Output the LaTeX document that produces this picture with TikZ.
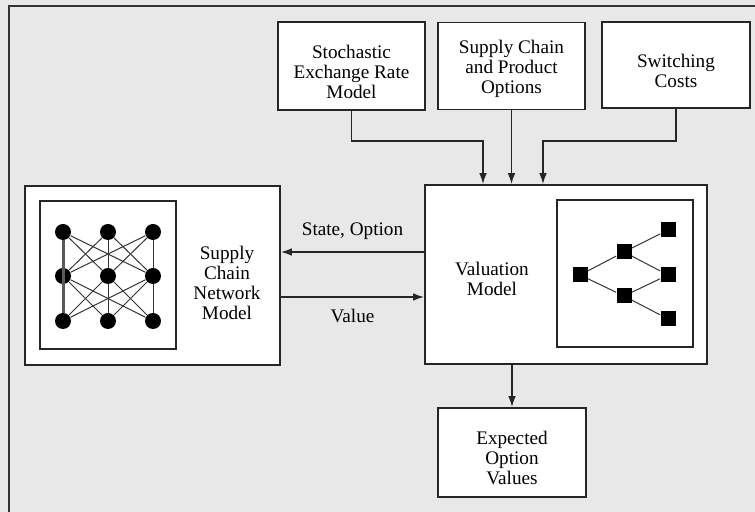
\documentclass[tikz,border=0pt]{standalone}
\usepackage{fontspec}
\setmainfont{Liberation Serif}
\usetikzlibrary{arrows.meta}

\begin{document}
\begin{tikzpicture}[
    x=0.5pt, y=-0.5pt,
    % text font of all labels
    every node/.style={font=\fontsize{9.6}{10}\selectfont, align=center},
    % plain boxes
    box/.style={draw=black!85, line width=0.85pt, fill=white, inner sep=0pt},
    % connectors with filled heads
    flow/.style={draw=black!85, line width=0.75pt, -{Latex[length=5.5pt, width=3.8pt]}},
    % network dots
    dot/.style={circle, fill=black, minimum size=8pt, inner sep=0pt},
    % tree squares
    sq/.style={rectangle, fill=black, minimum size=7.5pt, inner sep=0pt},
    % thin links inside the small pictures
    link/.style={draw=black!80, line width=0.5pt}
]

    % 1. paper and outer frame
    \useasboundingbox (0,0) rectangle (755,512);
    \fill[black!9] (0,0) rectangle (755,512);
    \draw[black!80, line width=1pt] (9,512) -- (9,6) -- (755,6);

    % 2. input boxes at the top
    \node[box, minimum width=73.5pt, minimum height=44pt] (rate) at (351.5,66) {};
    \node (ratetext) at ([yshift=-3pt]rate.center) {Stochastic\\Exchange Rate\\Model};
    \node[box, minimum width=73.5pt, minimum height=43.5pt] (prod) at (511.5,66) {};
    \node (prodtext) at ([yshift=-1.5pt]prod.center) {Supply Chain\\and Product\\Options};
    \node[box, minimum width=74pt, minimum height=43pt] (switch) at (676,65) {};
    \node (switchtext) at ([yshift=-3pt]switch.center) {Switching\\Costs};

    % 3. valuation model with its tree
    \node[box, minimum width=141pt, minimum height=89.5pt] (val) at (566,274.5) {};
    \node (valtext) at (492,279) {Valuation\\Model};
    \node[box, minimum width=68pt, minimum height=73.5pt] (tree) at (625,273.5) {};
    \node[sq] (t0) at (580,275) {};
    \node[sq] (t1) at (624,252) {};
    \node[sq] (t2) at (624,296) {};
    \node[sq] (t3) at (668,230) {};
    \node[sq] (t4) at (668,275) {};
    \node[sq] (t5) at (668,319) {};
    \foreach \a/\b in {t0/t1, t0/t2, t1/t3, t1/t4, t2/t4, t2/t5}
        \draw[link] (\a) -- (\b);

    % 4. supply chain network model with its net
    \node[box, minimum width=127.5pt, minimum height=89.5pt] (net) at (152.5,275.5) {};
    \node (nettext) at (227,283) {Supply\\Chain\\Network\\Model};
    \node[box, minimum width=68pt, minimum height=74pt] (grid) at (108,275) {};
    \foreach \c/\x in {1/63, 2/108, 3/153}
        \foreach \r/\y in {1/232, 2/276, 3/321}
            \node[dot] (d-\c-\r) at (\x,\y) {};
    \foreach \r/\s in {1/2, 2/3}
        \foreach \i in {2,3}
            \foreach \j in {1,2,3}
                \draw[link] (d-\i-\r) -- (d-\j-\s);
    \foreach \r/\s in {1/2, 2/3}
        \foreach \j in {2,3}
            \draw[link] (d-1-\r) -- (d-\j-\s);
    \draw[black!65, line width=1.5pt] (d-1-1) -- (d-1-3);

    % 5. output box
    \node[box, minimum width=74pt, minimum height=44.5pt] (exp) at (512,452.5) {};
    \node (exptext) at ([yshift=-2.5pt]exp.center) {Expected\\Option\\Values};

    % 6. connectors
    \coordinate (in1) at ([xshift=-41.5pt]val.north);
    \coordinate (in3) at ([xshift=-11.5pt]val.north);
    \draw[flow] (rate.south) -- ++(0,30) -| (in1);
    \draw[flow] (prod.south) -- (prod.south |- val.north);
    \draw[flow] (switch.south) -- ++(0,32) -| (in3);

    \draw[flow] ([yshift=11.25pt]val.west) -- ([yshift=11.25pt]val.west -| net.east)
        node[midway, above=2.5pt] (state) {State, Option};
    \draw[flow] ([yshift=-11.25pt]val.west -| net.east) -- ([yshift=-11.25pt]val.west)
        node[midway, below=2.5pt] (value) {Value};

    \draw[flow] (val.south -| exp.north) -- (exp.north);

\end{tikzpicture}
\end{document}
